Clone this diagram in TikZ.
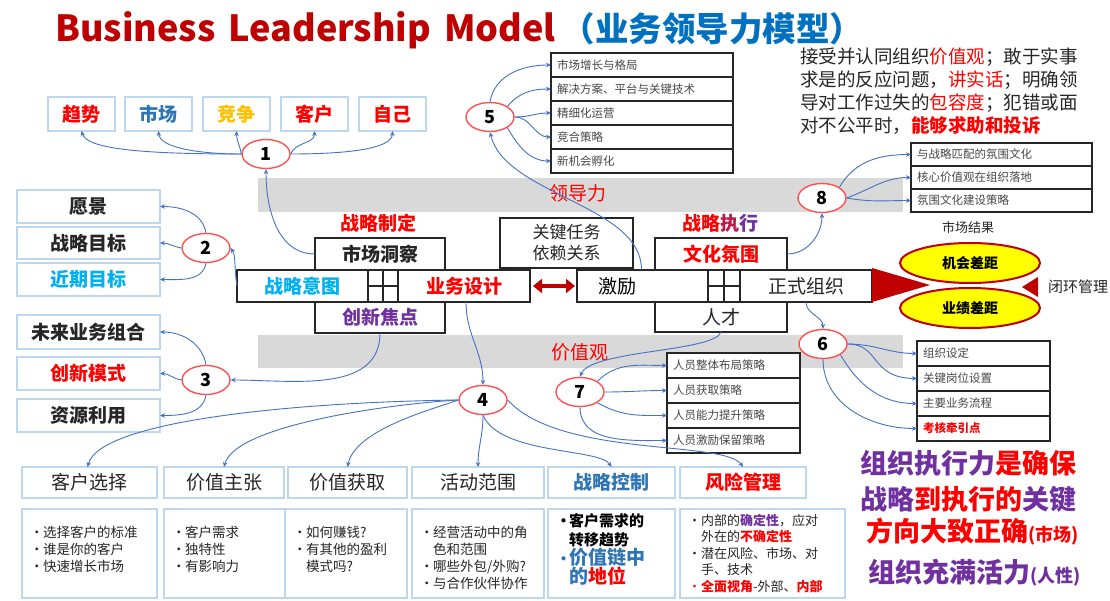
\documentclass[tikz,border=0pt]{standalone}
\usepackage{fontspec}
\setmainfont{Noto Sans CJK SC}
\usetikzlibrary{shapes.geometric,arrows.meta,calc}
\definecolor{tred}{HTML}{C00000}
\definecolor{tblue}{HTML}{0070C0}
\definecolor{lblue}{HTML}{BDD7EE}
\definecolor{cblue}{HTML}{4472C4}
\definecolor{cred}{HTML}{FF5050}
\definecolor{band}{HTML}{D9D9D9}
\definecolor{rr}{HTML}{FF0000}
\definecolor{pp}{HTML}{7030A0}
\definecolor{sky}{HTML}{00B0F0}
\definecolor{mblue}{HTML}{2E75B6}
\definecolor{gold}{HTML}{FFC000}
\definecolor{dk}{HTML}{262626}
\definecolor{ylw}{HTML}{FFFF00}
\newcommand{\fs}[2]{\fontsize{#1}{#2}\selectfont}
\newcommand{\bu}{\makebox[13pt][l]{•}}
\newcommand{\ind}{\hspace*{13pt}}
\tikzset{
 lbox/.style={draw=lblue, line width=1.2pt, fill=white, inner sep=0pt, outer sep=0pt, anchor=north west, font=\fs{19}{22}\bfseries, text=dk},
 kbox/.style={draw=black!85, line width=1.4pt, fill=white, inner sep=0pt, outer sep=0pt, anchor=north west, font=\fs{19}{22}, text=dk},
 sbox/.style={draw=black!85, line width=1.3pt, fill=white, inner xsep=6pt, inner ysep=0pt, outer sep=0pt, anchor=north west, font=\fs{11.5}{13}, text=dk!85, align=left, minimum height=#1},
 dbox/.style={draw=lblue, line width=1.2pt, fill=white, inner sep=0pt, outer sep=0pt, anchor=north west, minimum height=89pt},
 dtxt/.style={anchor=north west, inner sep=0pt, align=left, font=\fs{13.5}{17}, text=dk},
 num/.style={ellipse, draw=cred, line width=1.4pt, fill=white, minimum width=48pt, minimum height=29pt, inner sep=0pt, font=\fs{18}{18}\bfseries, text=black},
 conn/.style={draw=cblue, line width=0.9pt, -{Stealth[length=5pt,width=4.5pt]}},
 lbl/.style={inner sep=0pt, font=\fs{19}{22}}
}
\begin{document}
\begin{tikzpicture}[x=1pt,y=1pt]
\useasboundingbox (0,0) rectangle (1110,-601);
\fill[white] (0,0) rectangle (1110,-601);

% bands
\fill[band] (258,-178) rectangle (903,-212);
\fill[band] (258,-335) rectangle (903,-368);
\node[lbl, text=rr] (ldl) at (578,-193) {领导力};
\node[lbl, text=rr] (jzg) at (580,-352) {价值观};

% title
\node[anchor=base west, inner sep=0pt, font=\fs{36}{40}\bfseries] (title) at (55,-42) {\color{tred}Business\hspace{13pt}Leadership\hspace{13pt}Model\hspace{6pt}\color{tblue}\fs{33.5}{36}（业务领导力模型）};

% top boxes
\node[lbox, minimum width=67pt, minimum height=34pt, text=rr] (t1) at (48,-97) {趋势};
\node[lbox, minimum width=67pt, minimum height=34pt, text=mblue] (t2) at (125,-97) {市场};
\node[lbox, minimum width=67pt, minimum height=34pt, text=gold] (t3) at (203,-97) {竞争};
\node[lbox, minimum width=67pt, minimum height=34pt, text=rr] (t4) at (281,-97) {客户};
\node[lbox, minimum width=67pt, minimum height=34pt, text=rr] (t5) at (359,-97) {自己};

% left boxes
\node[lbox, minimum width=143pt, minimum height=33pt] (l1) at (17,-190) {愿景};
\node[lbox, minimum width=143pt, minimum height=32pt] (l2) at (17,-227) {战略目标};
\node[lbox, minimum width=143pt, minimum height=33pt, text=sky] (l3) at (17,-263) {近期目标};
\node[lbox, minimum width=143pt, minimum height=34pt] (l4) at (17,-315) {未来业务组合};
\node[lbox, minimum width=143pt, minimum height=33pt, text=rr] (l5) at (17,-357) {创新模式};
\node[lbox, minimum width=143pt, minimum height=33pt] (l6) at (17,-399) {资源利用};

% centre left
\node[lbl, text=rr, font=\fs{19}{22}\bfseries] (zlzd) at (378,-223) {战略制定};
\node[kbox, minimum width=130pt, minimum height=32pt, font=\fs{19}{22}\bfseries] (sc) at (315,-238) {市场洞察};
\node[kbox, minimum width=130pt, minimum height=31pt, text=pp, font=\fs{19}{22}\bfseries] (cx) at (315,-302) {创新焦点};
\node[kbox, minimum width=131pt, minimum height=32pt, text=sky, font=\fs{19}{22}\bfseries] (zl) at (237,-270) {战略意图};
\node[kbox, minimum width=30pt, minimum height=32pt] (g1) at (368,-270) {};
\draw[black!85, line width=1.2pt] (g1.north) -- (g1.south) (g1.west) -- (g1.east);
\node[kbox, minimum width=132pt, minimum height=32pt, text=rr, font=\fs{19}{22}\bfseries] (yw) at (398,-270) {业务设计};
\node[kbox, minimum width=133pt, minimum height=50pt, align=center, font=\fs{17}{21}] (gj) at (500,-218) {关键任务\\依赖关系};

% double arrow
\draw[tred, line width=4pt, {Triangle[length=9pt,width=14pt]}-{Triangle[length=9pt,width=14pt]}] (yw.east) ++(3,0) coordinate (da1) -- ($(yw.east)+(45,0)$) coordinate (da2);

% centre right
\node[lbl, font=\fs{19}{22}\bfseries] (zlzx) at (720,-223) {{\color{rr}战略}{\color{rr!55!pp}执}{\color{pp}行}};
\node[kbox, minimum width=131pt, minimum height=32pt] (jl) at (577,-270) {};
\node[lbl] (jlt) at (617,-286) {激励};
\node[kbox, minimum width=132pt, minimum height=32pt, text=rr, font=\fs{19}{22}\bfseries] (wh) at (655,-238) {文化氛围};
\node[kbox, minimum width=132pt, minimum height=30pt] (rc) at (655,-302) {人才};
\node[kbox, minimum width=32pt, minimum height=32pt] (g2) at (708,-270) {};
\draw[black!85, line width=1.2pt] (g2.north) -- (g2.south) (g2.west) -- (g2.east);
\node[kbox, minimum width=132pt, minimum height=32pt] (zs) at (740,-270) {正式组织};

% triangle, ellipses
\fill[tred] ($(zs.east)+(0,18)$) -- ($(zs.east)+(0,-16)$) -- ($(zs.east)+(58,1)$) -- cycle;
\node[inner sep=0pt, font=\fs{13}{15}, text=dk] (scjg) at (968,-228) {市场结果};
\node[ellipse, draw=tred, line width=2pt, fill=ylw, minimum width=140pt, minimum height=40pt, inner sep=0pt, font=\fs{14}{16}\bfseries] (e1) at (970,-263) {机会差距};
\node[ellipse, draw=tred, line width=2pt, fill=ylw, minimum width=140pt, minimum height=40pt, inner sep=0pt, font=\fs{14}{16}\bfseries] (e2) at (970,-308) {业绩差距};
\fill[tred] (1022,-287) -- (1038,-277) -- (1038,-297) -- cycle;
\node[anchor=west, inner sep=0pt, font=\fs{15}{16}, text=dk] (bh) at (1048,-287) {闭环管理};

% group 5 list
\node[sbox=24pt, text width=170pt] (f1) at (551,-53) {市场增长与格局};
\node[sbox=24pt, text width=170pt] (f2) at (551,-77) {解决方案、平台与关键技术};
\node[sbox=24pt, text width=170pt] (f3) at (551,-101) {精细化运营};
\node[sbox=24pt, text width=170pt] (f4) at (551,-125) {竞合策略};
\node[sbox=24pt, text width=170pt] (f5) at (551,-149) {新机会孵化};

% top right text
\node[anchor=north west, inner sep=0pt, align=left, font=\fs{18.5}{23}, text=dk] (tr) at (800,-48) {接受并认同组织{\color{rr}价值观}；敢于实事\\求是的反应问题，{\color{rr}讲实话}；明确领\\导对工作过失的{\color{rr}包容度}；犯错或面\\对不公平时，{\color{rr}\bfseries 能够求助和投诉}};

% group 8 list
\node[sbox=23pt, text width=169pt] (h1) at (911,-143) {与战略匹配的氛围文化};
\node[sbox=23pt, text width=169pt] (h2) at (911,-166) {核心价值观在组织落地};
\node[sbox=23pt, text width=169pt] (h3) at (911,-189) {氛围文化建设策略};

% group 6 list
\node[sbox=25pt, text width=121pt] (s1) at (917,-341) {组织设定};
\node[sbox=25pt, text width=121pt] (s2) at (917,-366) {关键岗位设置};
\node[sbox=25pt, text width=121pt] (s3) at (917,-391) {主要业务流程};
\node[sbox=25pt, text width=121pt, text=rr, font=\fs{11.5}{13}\bfseries] (s4) at (917,-416) {考核牵引点};

% group 7 list
\node[sbox=25pt, text width=121pt] (p1) at (667,-353) {人员整体布局策略};
\node[sbox=25pt, text width=121pt] (p2) at (667,-378) {人员获取策略};
\node[sbox=25pt, text width=121pt] (p3) at (667,-403) {人员能力提升策略};
\node[sbox=25pt, text width=121pt] (p4) at (667,-428) {人员激励保留策略};

% bottom headers
\node[lbox, minimum width=135pt, minimum height=31pt, font=\fs{19}{22}] (b1) at (22,-467) {客户选择};
\node[lbox, minimum width=120pt, minimum height=31pt, font=\fs{19}{22}] (b2) at (164,-467) {价值主张};
\node[lbox, minimum width=119pt, minimum height=31pt, font=\fs{19}{22}] (b3) at (288,-467) {价值获取};
\node[lbox, minimum width=132pt, minimum height=31pt, font=\fs{19}{22}] (b4) at (412,-467) {活动范围};
\node[lbox, minimum width=127pt, minimum height=31pt, text=mblue] (b5) at (548,-467) {战略控制};
\node[lbox, minimum width=126pt, minimum height=31pt, text=rr] (b6) at (680,-467) {风险管理};

% bottom detail boxes
\node[dbox, minimum width=135pt] (d1) at (22,-509) {};
\node[dbox, minimum width=121pt] (d2) at (164,-509) {};
\node[dbox, minimum width=122pt] (d3) at (285,-509) {};
\node[dbox, minimum width=132pt] (d4) at (412,-509) {};
\node[dbox, minimum width=127pt] (d5) at (548,-509) {};
\node[dbox, minimum width=165pt] (d6) at (680,-509) {};
\node[dtxt] (d1t) at (30,-526) {\bu 选择客户的标准\\\bu 谁是你的客户\\\bu 快速增长市场};
\node[dtxt] (d2t) at (172,-526) {\bu 客户需求\\\bu 独特性\\\bu 有影响力};
\node[dtxt] (d3t) at (293,-526) {\bu 如何赚钱?\\\bu 有其他的盈利\\\ind 模式吗?};
\node[dtxt] (d4t) at (420,-526) {\bu 经营活动中的角\\\ind 色和范围\\\bu 哪些外包/外购?\\\bu 与合作伙伴协作};
\node[dtxt, font=\fs{15}{19}\bfseries, text=black] (d5t) at (556,-513) {\bu 客户需求的\\\ind 转移趋势\\{\color{mblue}\bu}{\fs{19}{19}\color{mblue}价值链中}\\\ind{\fs{19}{19}\color{mblue}的\color{rr}地位}};
\node[dtxt, font=\fs{13}{16.5}] (d6t) at (688,-514) {\bu 内部的{\color{pp}\bfseries 确定性}，应对\\\ind 外在的{\color{rr}\bfseries 不确定性}\\\bu 潜在风险、市场、对\\\ind 手、技术\\{\color{rr}\bu\bfseries 全面视角}-外部、{\color{rr}\bfseries 内部}};

% right bottom text
\node[anchor=west, inner sep=0pt, font=\fs{27}{30}\bfseries] (k1) at (860,-463) {\color{pp}组织执行力\color{rr}是确保};
\node[anchor=west, inner sep=0pt, font=\fs{27}{30}\bfseries] (k2) at (860,-499) {\color{pp}战略\color{rr}到执行的\color{pp}关键};
\node[anchor=west, inner sep=0pt, font=\fs{27}{30}\bfseries] (k3) at (866,-532) {\color{rr}方向大致正确{\fs{18}{20}(市场)}};
\node[anchor=west, inner sep=0pt, font=\fs{27}{30}\bfseries] (k4) at (868,-573) {\color{pp}组织充满活力{\fs{18}{20}(人性)}};

% circles
\node[num] (c1) at (266,-154) {1};
\node[num] (c2) at (206,-248) {2};
\node[num] (c3) at (206,-380) {3};
\node[num] (c4) at (483,-400) {4};
\node[num] (c5) at (490,-117) {5};
\node[num] (c6) at (823,-344) {6};
\node[num] (c7) at (580,-392) {7};
\node[num] (c8) at (822,-198) {8};

% connectors group 1
\draw[conn] (c1.west) .. controls (150,-154) and (87,-150) .. (t1.south);
\draw[conn] (c1.west) .. controls (200,-154) and (160,-148) .. (t2.south);
\draw[conn] (c1.west) to[out=100,in=-90] (t3.south);
\draw[conn] (c1.east) to[out=70,in=-90] (t4.south);
\draw[conn] (c1.east) .. controls (340,-154) and (392,-150) .. (t5.south);
\draw[conn] (sc.west) to[out=180,in=-90] (c1.south);

% group 2
\draw[conn] (c2.north) to[out=100,in=0] (l1.east);
\draw[conn] (c2.west) to[out=170,in=0] (l2.east);
\draw[conn] (c2.south) to[out=-100,in=0] (l3.east);
\draw[conn] (zl.west) .. controls (234,-268) and (236,-256) .. (c2.east);

% group 3
\draw[conn] (c3.north) to[out=100,in=0] (l4.east);
\draw[conn] (c3.west) to[out=170,in=0] (l5.east);
\draw[conn] (c3.south) to[out=-100,in=0] (l6.east);
\draw[conn] (cx.south) to[out=-90,in=0] (c3.east);

% group 4
\draw[conn] ($(yw.south)+(2,0)$) coordinate (ywb) to[out=-90,in=90] (c4.north);
\draw[conn] (c4.west) .. controls (300,-402) and (100,-420) .. ($(b1.north)+(-2,0)$);
\draw[conn] (c4.west) .. controls (390,-404) and (235,-425) .. (b2.north);
\draw[conn] (c4.west) .. controls (430,-410) and (355,-430) .. (b3.north);
\draw[conn] (c4.south) to[out=-90,in=90] (b4.north);
\draw[conn] (c4.south) .. controls (500,-455) and (600,-448) .. (b5.north);
\draw[conn] (c4.east) .. controls (560,-458) and (725,-440) .. (b6.north);

% group 5
\draw[conn] (c5.north) to[out=80,in=180] (f1.west);
\draw[conn] (c5.north east) to[out=50,in=180] (f2.west);
\draw[conn] (c5.east) to[out=0,in=180] (f3.west);
\draw[conn] (c5.east) to[out=0,in=180] (f4.west);
\draw[conn] (c5.south east) to[out=-60,in=180] (f5.west);
\draw[conn] ($(jl.north)+(-1,0)$) coordinate (jlt2) .. controls (642,-205) and (505,-195) .. (c5.south);

% group 8
\draw[conn] (c8.north east) to[out=60,in=180] (h1.west);
\draw[conn] (c8.east) to[out=20,in=180] (h2.west);
\draw[conn] (c8.east) to[out=-10,in=180] (h3.west);
\draw[conn] (wh.east) to[out=0,in=-90] (c8.south);

% group 6
\draw[conn] (zs.south) to[out=-90,in=90] (c6.north);
\draw[conn] (c6.east) to[out=0,in=180] (s1.west);
\draw[conn] (c6.east) .. controls (880,-344) and (870,-378) .. (s2.west);
\draw[conn] (c6.south east) to[out=-60,in=180] (s3.west);
\draw[conn] (c6.south) to[out=-90,in=180] (s4.west);

% group 7
\draw[conn] (rc.south) .. controls (715,-352) and (590,-350) .. (c7.north);
\draw[conn] (c7.north east) to[out=45,in=180] (p1.west);
\draw[conn] (c7.east) to[out=0,in=180] (p2.west);
\draw[conn] (c7.south east) to[out=-30,in=180] (p3.west);
\draw[conn] (c7.south) to[out=-90,in=180] (p4.west);
\end{tikzpicture}
\end{document}
